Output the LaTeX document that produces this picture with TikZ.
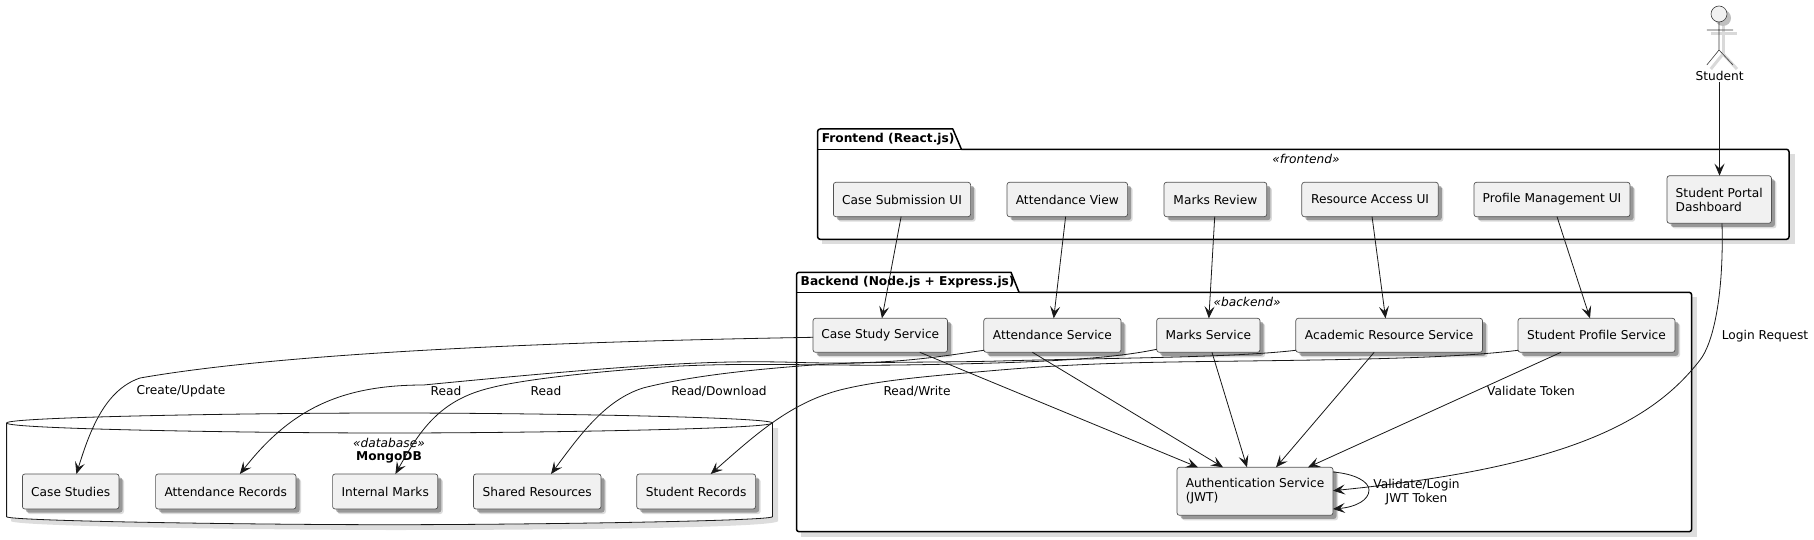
\documentclass[tikz,border=0pt]{standalone}
\usepackage{fontspec}
\setmainfont{DejaVu Sans}
\usetikzlibrary{arrows.meta,shadows}
\definecolor{boxfill}{HTML}{F1F1F1}
\definecolor{boxline}{HTML}{181818}
\definecolor{shadowc}{HTML}{DDDDDD}
\tikzset{
  every node/.style={font=\fontsize{12.2}{14}\selectfont},
  box/.style={draw=boxline!75,line width=0.7pt,fill=boxfill,rounded corners=2.5pt,anchor=north west,inner sep=0pt,outer sep=0pt,
    drop shadow={shadow xshift=5pt,shadow yshift=-5pt,fill=black,opacity=.14},
    drop shadow={shadow xshift=3.5pt,shadow yshift=-3.5pt,fill=black,opacity=.3}},
  lbl/.style={inner sep=0pt},
  stereo/.style={inner sep=0pt,font=\fontsize{12.2}{14}\selectfont\itshape},
  pkgtitle/.style={inner sep=0pt,anchor=west,font=\fontsize{12.2}{14}\selectfont\bfseries},
  pkg/.style={draw=black,line width=1.5pt,line join=round,fill=white},
  pkgshadow/.style={fill=shadowc},
  conn/.style={draw=boxline,line width=0.8pt,-{Stealth[length=12pt,width=10pt,inset=5pt]}},
}
\newcommand{\bx}[6]{\node[box,minimum width=#4pt,minimum height=#5pt,align=left] (#1) at (#2,#3) {#6};}
\begin{document}
\begin{tikzpicture}[x=1pt,y=-1pt]
\useasboundingbox (0,0) rectangle (1814,540);
% database
\fill[shadowc] (11,428) -- (11,521) .. controls (11,527) and (300,530) .. (392,530) .. controls (600,530) and (778,527) .. (778,521) -- (778,428) -- cycle;
\filldraw[draw=boxline,line width=0.8pt,fill=white] (6.6,423) .. controls (6.6,417) and (250,413) .. (389.5,413) .. controls (530,413) and (772.4,417) .. (772.4,423) -- (772.4,516.7) .. controls (772.4,521) and (530,524.7) .. (389.5,524.7) .. controls (250,524.7) and (6.6,521) .. (6.6,516.7) -- cycle;
\draw[boxline,line width=0.8pt] (6.6,423) .. controls (6.6,429) and (250,433) .. (389.5,433) .. controls (530,433) and (772.4,429) .. (772.4,423);
\node[stereo] (dbst) at (389,443) {«database»};
\node[lbl,font=\fontsize{12.2}{14}\selectfont\bfseries] (dbname) at (389,457) {MongoDB};
% frontend package
\fill[pkgshadow] (822,154) rectangle (1795,244);
\filldraw[pkg] (817.6,149.3) -- (817.6,131.5) arc[start angle=180,end angle=270,radius=2.5] -- (952.8,129) -- (961.4,149.3) -- (1786.5,149.3) arc[start angle=-90,end angle=0,radius=2.5] -- (1789,236.8) arc[start angle=0,end angle=90,radius=2.5] -- (820.1,239.3) arc[start angle=90,end angle=180,radius=2.5] -- cycle;
\draw[black,line width=1.5pt] (817.6,149.3) -- (961.4,149.3);
\node[pkgtitle] (fet) at (821.6,138.7) {Frontend (React.js)};
\node[stereo] (fest) at (1306,159) {«frontend»};
% backend package
\fill[pkgshadow] (801,297) rectangle (1697,537);
\filldraw[pkg] (796.5,292.3) -- (796.5,274.8) arc[start angle=180,end angle=270,radius=2.5] -- (1011,272.3) -- (1019,292.3) -- (1689.1,292.3) arc[start angle=-90,end angle=0,radius=2.5] -- (1691.6,529.2) arc[start angle=0,end angle=90,radius=2.5] -- (799,531.7) arc[start angle=90,end angle=180,radius=2.5] -- cycle;
\draw[black,line width=1.5pt] (796.5,292.3) -- (1019,292.3);
\node[pkgtitle] (bet) at (800.5,282) {Backend (Node.js + Express.js)};
\node[stereo] (best) at (1247,302) {«backend»};
% frontend nodes
\bx{fcase}{833.4}{182.3}{137.2}{34.4}{Case Submission UI}
\bx{fatt}{1007}{182.3}{120.6}{34.4}{Attendance View}
\bx{fmark}{1164}{182.3}{102.8}{34.4}{Marks Review}
\bx{fres}{1301.8}{182.3}{136.5}{34.4}{Resource Access UI}
\bx{fprof}{1474}{182.3}{156}{34.4}{Profile Management UI}
\bx{fport}{1667}{175.7}{104.4}{47.6}{Student Portal\\Dashboard}
% backend nodes
\bx{bcase}{813}{318.3}{134.5}{34}{Case Study Service}
\bx{batt}{983.8}{318.3}{137.2}{34}{Attendance Service}
\bx{bmark}{1156.7}{318.3}{103.3}{34}{Marks Service}
\bx{bres}{1295.8}{318.3}{186.7}{34}{Academic Resource Service}
\bx{bprof}{1518}{318.3}{157}{34}{Student Profile Service}
\bx{auth}{1177}{467.3}{156}{48}{Authentication Service\\(JWT)}
% db nodes
\bx{dcase}{22.4}{474}{96.6}{35}{Case Studies}
\bx{datt}{155.6}{474}{140.4}{35}{Attendance Records}
\bx{dmark}{332.6}{474}{105.2}{35}{Internal Marks}
\bx{dres}{473.5}{474}{127.5}{35}{Shared Resources}
\bx{drec}{636.7}{474}{118.9}{35}{Student Records}
% actor
\begin{scope}[draw=black!15,line width=3pt,shift={(4,4)}]
\draw (1719,22) -- (1719,50);
\draw (1706.8,30) -- (1733,30);
\draw (1719,50) -- (1706.8,65);
\draw (1719,50) -- (1733,65);
\fill[black!25] (1719,14) circle[radius=8];
\end{scope}
\filldraw[fill=boxfill,draw=boxline!85,line width=0.6pt] (1719,14) circle[radius=8];
\draw[boxline!85,line width=0.6pt] (1719,22) -- (1719,50) (1706.8,30) -- (1733,30) (1706.8,65) -- (1719,50) -- (1733,65);
\node[lbl] (student) at (1719.5,76) {Student};
% connectors
\draw[conn] ([yshift=-1pt]student.south) -- (fport.north-|student);
\draw[conn] ([xshift=-.9pt]fcase.south) -- ([xshift=1.7pt]bcase.north);
\draw[conn] ([xshift=-1.7pt]fatt.south) -- ([xshift=1.3pt]batt.north);
\draw[conn] ([xshift=-.7pt]fmark.south) -- ([xshift=.5pt]bmark.north);
\draw[conn] ([xshift=2pt]fres.south) -- ([xshift=-3.6pt]bres.north);
\draw[conn] ([xshift=5pt]fprof.south) -- ([xshift=-6.5pt]bprof.north);
\draw[conn] ([xshift=2.8pt]fport.south) .. controls (1724,300) and (1712,345) .. (1700,360) .. controls (1650,425) and (1560,468) .. (auth.east|-0,490.7);
\draw[conn] ([yshift=-4.7pt]auth.north east) .. controls (1356,474) and (1369,482) .. (1369,490) .. controls (1369,500) and (1356,507) .. ([yshift=6.3pt]auth.south east);
\draw[conn] ([xshift=-27.7pt]bcase.south east) -- ([xshift=21pt]auth.north west);
\draw[conn] ([xshift=-20pt]batt.south) -- ([xshift=46pt]auth.north west);
\draw[conn] ([xshift=3.6pt]bmark.south) -- ([xshift=70pt]auth.north west);
\draw[conn] ([xshift=-15pt]bres.south) -- ([xshift=99pt]auth.north west);
\draw[conn] ([xshift=43pt]bprof.south west) -- ([xshift=131pt]auth.north west);
\draw[conn] ([yshift=-2pt]bcase.west) .. controls (600,341) and (300,350) .. (140,378) .. controls (105,390) and (90,430) .. ([xshift=54pt]dcase.north west);
\draw[conn] ([yshift=2pt]batt.south west) .. controls (930,358) and (890,365) .. (800,362.5) .. controls (720,360) and (650,363) .. (423.5,385) .. controls (340,385) and (290,410) .. ([xshift=84.3pt]datt.north west);
\draw[conn] ([yshift=3pt]bmark.south west) .. controls (1110,359) and (1040,363) .. (900,365) .. controls (820,366) and (740,362) .. (663,367) .. controls (590,372) and (520,380) .. (490,388) .. controls (440,400) and (420,430) .. ([xshift=62.8pt]dmark.north west);
\draw[conn] ([yshift=2pt]bres.south west) .. controls (1230,358) and (1100,358) .. (1000,361) .. controls (920,363) and (860,361) .. (800,366) .. controls (750,370) and (690,376) .. (643,388) .. controls (605,400) and (580,435) .. ([xshift=77.5pt]dres.north west);
\draw[conn] ([yshift=2pt]bprof.south west) .. controls (1440,360) and (1300,360) .. (1172,362) .. controls (1110,363) and (1060,365) .. (1000,370) .. controls (930,376) and (880,380) .. (840,390) .. controls (790,403) and (755,435) .. ([xshift=74pt]drec.north west);
% labels
\node[lbl] (l1) at (181,391) {Create/Update};
\node[lbl] (l2) at (446,391) {Read};
\node[lbl] (l3) at (546,391) {Read};
\node[lbl] (l4) at (719,391) {Read/Download};
\node[lbl] (l5) at (917,391) {Read/Write};
\node[lbl] (l6) at (1531,391) {Validate Token};
\node[lbl] (l7) at (1765,336) {Login Request};
\node[lbl] (l8) at (1416.5,485) {Validate/Login};
\node[lbl] (l9) at (1416.5,499) {JWT Token};
\end{tikzpicture}
\end{document}
